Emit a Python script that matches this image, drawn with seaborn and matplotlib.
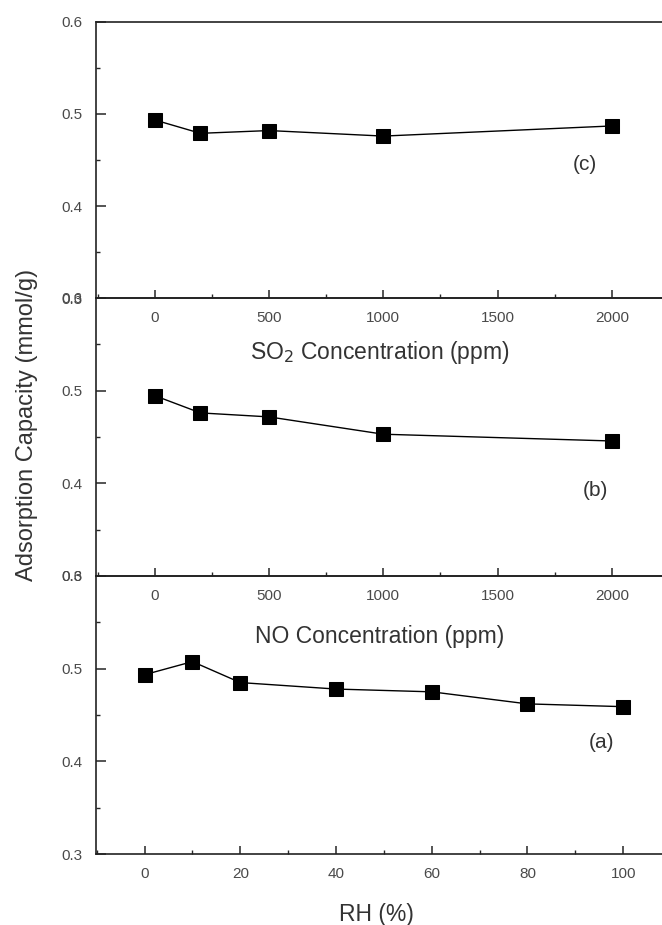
import seaborn as sns
import matplotlib.pyplot as plt
import matplotlib.ticker as mticker
import numpy as np
import pandas as pd

# panel (c): SO2 concentration
so2_ppm = [0, 200, 500, 1000, 2000]
cap_so2 = [0.4935, 0.479, 0.482, 0.476, 0.487]

# panel (b): NO concentration
no_ppm = [0, 200, 500, 1000, 2000]
cap_no = [0.4946, 0.476, 0.4717, 0.453, 0.4457]

# panel (a): relative humidity
rh_pct = [0, 10, 20, 40, 60, 80, 100]
cap_rh = [0.4935, 0.5076, 0.485, 0.478, 0.475, 0.462, 0.459]

sns.set_style("ticks")
plt.rcParams['font.family'] = ['Liberation Sans', 'DejaVu Sans']

W, H = 662, 925
fig = plt.figure(figsize=(W / 100, H / 100), dpi=100)

left = 96 / W
tops = [22, 298, 576]
bottoms = [298, 576, 854]

panels = [
    (so2_ppm, cap_so2, (-257, 2248), 500, 250),
    (no_ppm, cap_no, (-257, 2248), 500, 250),
    (rh_pct, cap_rh, (-10.15, 109.5), 20, 10),
]

tick_color = '#4a4a4a'
for i, (xs, ys, xlim, major, minor) in enumerate(panels):
    b = 1 - bottoms[i] / H
    h = (bottoms[i] - tops[i]) / H
    ax = fig.add_axes([left, b, 1.0 - left + 0.01, h])
    ax.patch.set_alpha(0)
    df = pd.DataFrame({'x': xs, 'y': ys})
    sns.lineplot(data=df, x='x', y='y', ax=ax, color='black', lw=1.0,
                 marker='s', markersize=9.5, markeredgecolor='black')
    ax.set_xlim(*xlim)
    ax.set_ylim(0.3, 0.6)
    ax.xaxis.set_major_locator(mticker.MultipleLocator(major))
    ax.xaxis.set_minor_locator(mticker.MultipleLocator(minor))
    ax.yaxis.set_major_locator(mticker.MultipleLocator(0.1))
    ax.yaxis.set_minor_locator(mticker.MultipleLocator(0.05))
    ax.yaxis.set_major_formatter(mticker.FormatStrFormatter('%.1f'))
    ax.set_xlabel('')
    ax.set_ylabel('')
    ax.spines['right'].set_visible(False)
    for s in ['left', 'top', 'bottom']:
        ax.spines[s].set_linewidth(1.2)
        ax.spines[s].set_color('#222222')
    ax.tick_params(axis='x', which='major', direction='in', length=6, width=1.1,
                   pad=9, labelsize=11, labelcolor=tick_color)
    ax.tick_params(axis='x', which='minor', direction='in', length=3, width=1.0)
    ax.tick_params(axis='y', which='major', direction='in', length=7, width=1.1,
                   pad=10, labelsize=11, labelcolor=tick_color)
    ax.tick_params(axis='y', which='minor', direction='in', length=3, width=1.0)

lab_color = '#333333'
fig.text(380 / W, 1 - 353 / H, 'SO$_2$ Concentration (ppm)', ha='center', va='center',
         fontsize=16.5, color=lab_color)
fig.text(380 / W, 1 - 636 / H, 'NO Concentration (ppm)', ha='center', va='center',
         fontsize=16.5, color=lab_color)
fig.text(376 / W, 1 - 914 / H, 'RH (%)', ha='center', va='center',
         fontsize=16.5, color=lab_color)
fig.text(27 / W, 1 - 425 / H, 'Adsorption Capacity (mmol/g)', ha='center', va='center',
         rotation=90, fontsize=17, color=lab_color)

fig.text(585 / W, 1 - 165 / H, '(c)', ha='center', va='center', fontsize=15, color=lab_color)
fig.text(595 / W, 1 - 491 / H, '(b)', ha='center', va='center', fontsize=15, color=lab_color)
fig.text(602 / W, 1 - 743 / H, '(a)', ha='center', va='center', fontsize=15, color=lab_color)

plt.savefig('out.png', dpi=100)
